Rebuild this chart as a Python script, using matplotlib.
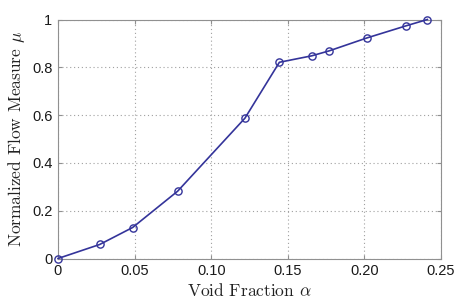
import matplotlib
matplotlib.use("Agg")
import matplotlib.pyplot as plt

# values
void_fraction = [0.0, 0.0272, 0.0487, 0.0781, 0.122, 0.1445, 0.1656, 0.1771, 0.2017, 0.2269, 0.2411]
flow_measure = [0.0, 0.0586, 0.1297, 0.2817, 0.587, 0.821, 0.848, 0.869, 0.923, 0.973, 1.0]

x_ticks = [0, 0.05, 0.10, 0.15, 0.20, 0.25]
x_tick_labels = ["0", "0.05", "0.10", "0.15", "0.20", "0.25"]
y_ticks = [0, 0.2, 0.4, 0.6, 0.8, 1.0]
y_tick_labels = ["0", "0.2", "0.4", "0.6", "0.8", "1"]

plt.rcParams["mathtext.fontset"] = "cm"
plt.rcParams["font.family"] = ["Liberation Sans", "DejaVu Sans"]

fig = plt.figure(figsize=(4.64, 3.0), dpi=100)
ax = fig.add_axes([58 / 464, 1 - 258.5 / 300, 383 / 464, 239 / 300])

line_color = "#34349a"
ax.plot(void_fraction, flow_measure, color=line_color, linewidth=1.2,
        marker="o", markersize=5.2, markerfacecolor="none",
        markeredgecolor=line_color, markeredgewidth=1.0, clip_on=False, zorder=3)

ax.set_xlim(0, 0.25)
ax.set_ylim(0, 1)
ax.set_xticks(x_ticks)
ax.set_xticklabels(x_tick_labels)
ax.set_yticks(y_ticks)
ax.set_yticklabels(y_tick_labels)

ax.grid(True, linestyle=(0, (1, 2.5)), color="#a0a0a0", linewidth=0.8)
for spine in ax.spines.values():
    spine.set_color("#909090")
    spine.set_linewidth(0.8)
ax.tick_params(direction="in", length=3, color="#909090", labelsize=10.5,
               labelcolor="#1a1a1a", pad=4, top=True, right=True)

ax.set_xlabel(r"Void Fraction $\alpha$", fontfamily="cmr10", fontsize=12.5,
              color="#222222", labelpad=3)
ax.set_ylabel(r"Normalized Flow Measure $\mu$", fontfamily="cmr10", fontsize=12.5,
              color="#222222", labelpad=4)

fig.savefig("out.png", dpi=100)
